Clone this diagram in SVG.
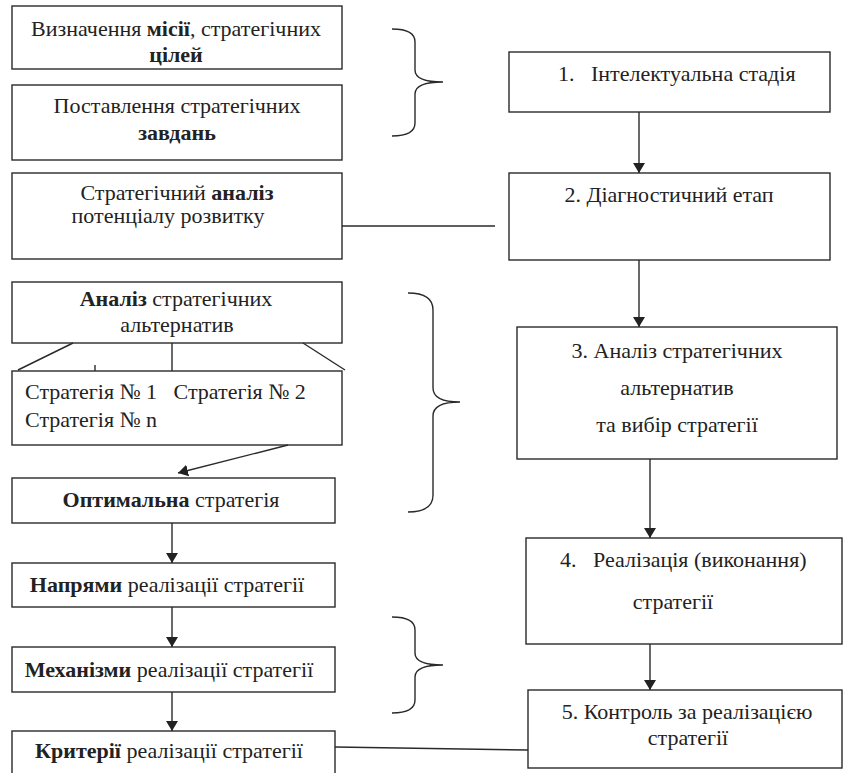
<svg xmlns="http://www.w3.org/2000/svg" width="843" height="773" viewBox="0 0 843 773">
  <style>
    .box { fill: #fff; stroke: #2a2a2a; stroke-width: 1.4; }
    .t { font-family: 'Liberation Serif', 'DejaVu Serif', serif; font-size: 22px; fill: #222; }
    .c { text-anchor: middle; }
    .b { font-weight: bold; }
    .ln { fill: none; stroke: #2a2a2a; stroke-width: 1.4; }
    .arr { fill: none; stroke: #2a2a2a; stroke-width: 1.4; marker-end: url(#head); }
    .brace { fill: none; stroke: #2a2a2a; stroke-width: 1.4; }
  </style>
  <defs>
    <marker id="head" viewBox="0 0 10 12" refX="10" refY="6" markerWidth="10" markerHeight="12" markerUnits="userSpaceOnUse" orient="auto">
      <path d="M0,0 L10,6 L0,12 Z" fill="#222"/>
    </marker>
  </defs>
  <rect width="843" height="773" fill="#fff"/>

  <!-- left column -->
  <g id="mission">
    <rect class="box" x="12" y="6" width="330" height="63"/>
    <text class="t c" x="176" y="36">Визначення <tspan class="b">місії</tspan>, стратегічних</text>
    <text class="t c b" x="176" y="62">цілей</text>
  </g>
  <g id="tasks">
    <rect class="box" x="12" y="85" width="330" height="75"/>
    <text class="t c" x="177" y="113">Поставлення стратегічних</text>
    <text class="t c b" x="177" y="140">завдань</text>
  </g>
  <g id="analysis">
    <rect class="box" x="12" y="173" width="330" height="86"/>
    <text class="t c" x="177" y="200">Стратегічний <tspan class="b">аналіз</tspan></text>
    <text class="t c" x="168" y="223">потенціалу розвитку</text>
  </g>
  <g id="alternatives">
    <rect class="box" x="12" y="282" width="330" height="61"/>
    <text class="t c" x="176" y="306"><tspan class="b">Аналіз</tspan> стратегічних</text>
    <text class="t c" x="177" y="332">альтернатив</text>
  </g>
  <g id="strategies">
    <rect class="box" x="12" y="371" width="330" height="74"/>
    <text class="t" x="25" y="399" xml:space="preserve">Стратегія № 1   Стратегія № 2</text>
    <text class="t" x="25" y="427">Стратегія № n</text>
  </g>
  <g id="optimal">
    <rect class="box" x="12" y="478" width="323" height="45"/>
    <text class="t c" x="171" y="507"><tspan class="b">Оптимальна</tspan> стратегія</text>
  </g>
  <g id="directions">
    <rect class="box" x="12" y="563" width="323" height="44"/>
    <text class="t c" x="167" y="592"><tspan class="b">Напрями</tspan> реалізації стратегії</text>
  </g>
  <g id="mechanisms">
    <rect class="box" x="12" y="647" width="323" height="45"/>
    <text class="t c" x="169" y="677"><tspan class="b">Механізми</tspan> реалізації стратегії</text>
  </g>
  <g id="criteria">
    <rect class="box" x="12" y="731" width="323" height="50"/>
    <text class="t c" x="169" y="758"><tspan class="b">Критерії</tspan> реалізації стратегії</text>
  </g>

  <!-- right column: stages -->
  <g id="stage1">
    <rect class="box" x="509" y="52" width="321" height="60"/>
    <text class="t" x="558" y="81" xml:space="preserve">1.   Інтелектуальна стадія</text>
  </g>
  <g id="stage2">
    <rect class="box" x="509" y="173" width="321" height="87"/>
    <text class="t c" x="669" y="202">2. Діагностичний етап</text>
  </g>
  <g id="stage3">
    <rect class="box" x="517" y="327" width="320" height="132"/>
    <text class="t c" x="677" y="358">3. Аналіз стратегічних</text>
    <text class="t c" x="677" y="395">альтернатив</text>
    <text class="t c" x="677" y="432">та вибір стратегії</text>
  </g>
  <g id="stage4">
    <rect class="box" x="526" y="538" width="316" height="106"/>
    <text class="t" x="560" y="567" xml:space="preserve">4.   Реалізація (виконання)</text>
    <text class="t c" x="673" y="609">стратегії</text>
  </g>
  <g id="stage5">
    <rect class="box" x="528" y="690" width="314" height="78"/>
    <text class="t c" x="687" y="719">5.  Контроль за реалізацією</text>
    <text class="t c" x="688" y="745">стратегії</text>
  </g>

  <!-- braces grouping the left blocks -->
  <g id="braces">
    <path class="brace" d="M392,29 Q415,29 415,42 L415,70 Q415,82 443,82 Q415,82 415,94 L415,123 Q415,136 392,136"/>
    <path class="brace" d="M408,293 Q433,293 433,310 L433,388 Q433,402 460,402 Q433,402 433,416 L433,495 Q433,512 408,512"/>
    <path class="brace" d="M392,617 Q415,617 415,630 L415,653 Q415,665 443,665 Q415,665 415,677 L415,700 Q415,713 392,713"/>
  </g>

  <!-- connectors -->
  <g id="connectors">
    <line class="arr" x1="639" y1="112" x2="639" y2="173"/>
    <line class="arr" x1="639" y1="260" x2="639" y2="327"/>
    <line class="arr" x1="650" y1="459" x2="650" y2="538"/>
    <line class="arr" x1="650" y1="644" x2="650" y2="690"/>
    <line class="ln" x1="342" y1="226" x2="495" y2="226"/>
    <line class="ln" x1="73" y1="343" x2="18" y2="370"/>
    <line class="ln" x1="172" y1="343" x2="172" y2="371"/>
    <line class="ln" x1="303" y1="343" x2="345" y2="370"/>
    <line class="ln" x1="95" y1="365" x2="95" y2="371"/>
    <line class="arr" x1="288" y1="445" x2="178" y2="473"/>
    <line class="arr" x1="172" y1="523" x2="172" y2="563"/>
    <line class="arr" x1="172" y1="607" x2="172" y2="647"/>
    <line class="arr" x1="172" y1="692" x2="172" y2="731"/>
    <line class="ln" x1="335" y1="747" x2="528" y2="750"/>
  </g>
</svg>
